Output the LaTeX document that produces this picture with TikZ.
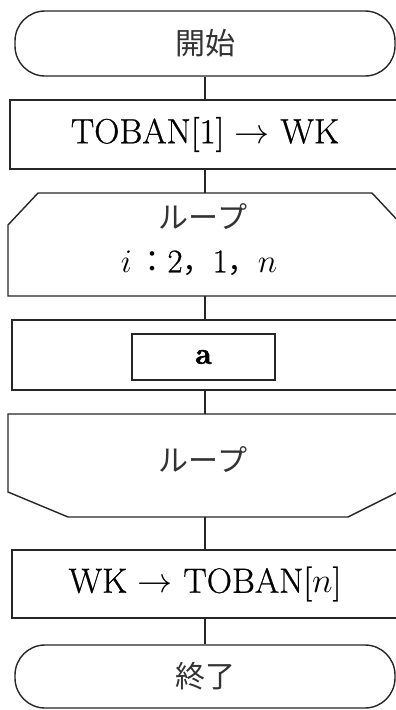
\RequirePackage{fix-cm}
\documentclass[tikz,border=0pt]{standalone}
\usepackage{fontspec}
\setmainfont{Latin Modern Roman}[FakeBold=2]
\newfontfamily\lmb{Latin Modern Roman}[FakeBold=0.7]
\newfontfamily\jp{Noto Sans CJK JP}
\begin{document}
\begin{tikzpicture}[x=1pt,y=-1pt,
  ln/.style={line width=1.4pt, draw=black!85},
  lat/.style={font=\lmb\fontsize{35}{40}\selectfont},
  latsm/.style={font=\lmb\fontsize{33}{38}\selectfont},
  jpt/.style={font=\jp\fontsize{30}{36}\selectfont, text=black!80},
  term/.style={ln, rounded corners=30pt, minimum width=380pt, inner sep=0pt},
  proc/.style={ln, rectangle, inner sep=0pt},
  anchorbox/.style={draw=none, inner sep=0pt}]
\useasboundingbox (0,0) rectangle (396,710);
\clip (0,0) rectangle (396,710);
\fill[white] (0,0) rectangle (396,710);

% start terminal
\node[term, minimum height=65pt, jpt] (start) at (205,43.5) {開始};
% TOBAN[1] -> WK
\node[proc, minimum width=390pt, minimum height=69pt, lat] (p1) at (205,134.5) {TOBAN[1] $\rightarrow$ WK};
% loop start
\draw[ln] (8,225) -- (38,193) -- (372,193) -- (402,225) -- (402,296) -- (8,296) -- cycle;
\node[anchorbox, minimum width=394pt, minimum height=103pt] (loopA) at (205,244.5) {};
\node[jpt] (loopAt) at (203,217) {ループ};
\node[latsm, inner sep=0pt] (loopAc) at (199,263) {$i$\,{\jp\fontsize{30}{36}\selectfont ：}2{\jp\fontsize{30}{36}\selectfont ，}1{\jp\fontsize{30}{36}\selectfont ，}$n$};
% outer box with a
\node[proc, minimum width=386pt, minimum height=70pt] (p2) at (205,355) {};
\node[proc, minimum width=143pt, minimum height=46pt, font=\bfseries\fontsize{30}{36}\selectfont] (a) at (203.5,357) {a};
% loop end
\draw[ln] (8,414) -- (402,414) -- (402,490) -- (348,517) -- (68,517) -- (8,492) -- cycle;
\node[anchorbox, minimum width=394pt, minimum height=103pt] (loopB) at (205,465.5) {};
\node[jpt] (loopBt) at (203,460) {ループ};
% WK -> TOBAN[n]
\node[proc, minimum width=386pt, minimum height=68pt, lat] (p3) at (205,584) {WK $\rightarrow$ TOBAN[$n$]};
% end terminal
\node[term, minimum height=63pt, jpt] (end) at (205,676.5) {終了};

% connectors
\draw[ln] (start.south) -- (p1.north);
\draw[ln] (p1.south) -- (loopA.north);
\draw[ln] (loopA.south) -- (p2.north);
\draw[ln] (p2.south) -- (loopB.north);
\draw[ln] (loopB.south) -- (p3.north);
\draw[ln] (p3.south) -- (end.north);
\end{tikzpicture}
\end{document}
